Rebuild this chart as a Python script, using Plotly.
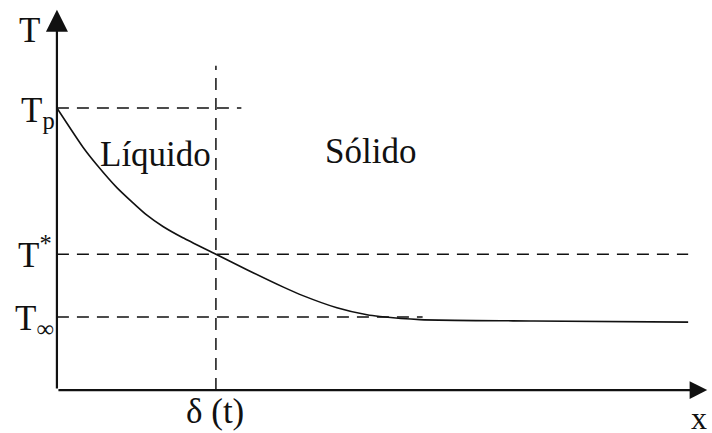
import plotly.graph_objects as go

# Temperature levels (normalised) and interface position
T_LEVELS = {"Tp": 1.0, "Tstar": 0.482, "Tinf": 0.259}
DELTA = 1.0
X_END = 3.97

# Temperature profile T(x)
x_curve = [0.0, 0.164, 0.252, 0.377, 0.566, 0.667, 0.792, 1.0, 1.195, 1.421,
           1.547, 1.761, 1.950, 2.031, 2.283, 3.0, 3.97]
T_curve = [1.0, 0.861, 0.798, 0.718, 0.620, 0.580, 0.540, 0.482, 0.427, 0.366,
           0.335, 0.292, 0.267, 0.261, 0.250, 0.245, 0.241]

# Extents of the guide lines
tp_line_end = 1.16
tinf_line_end = 2.3
delta_line_top = 1.15
x_arrow_tip = 4.09
y_arrow_tip = 1.348

W, H = 712, 433
XR = [-0.358, 4.12]
YR = [-0.152, 1.383]

FONT = "Liberation Serif"
INK = "#111111"

fig = go.Figure()

dash_style = dict(color=INK, width=1.5, dash="12px,8px")

# horizontal dashed guides
for yv, xe in [(T_LEVELS["Tp"], tp_line_end), (T_LEVELS["Tstar"], X_END), (T_LEVELS["Tinf"], tinf_line_end)]:
    fig.add_trace(go.Scatter(x=[0, xe], y=[yv, yv], mode="lines", line=dash_style,
                             hoverinfo="skip", showlegend=False))

# vertical dashed guide at the interface
fig.add_trace(go.Scatter(x=[DELTA, DELTA], y=[0, delta_line_top], mode="lines", line=dash_style,
                         hoverinfo="skip", showlegend=False))

# temperature profile
fig.add_trace(go.Scatter(x=x_curve, y=T_curve, mode="lines",
                         line=dict(color=INK, width=1.6, shape="spline", smoothing=0.6),
                         hoverinfo="skip", showlegend=False))

# axes with arrowheads
for tip, tail, size in [((x_arrow_tip, 0), (0, 0), 1.6), ((0, y_arrow_tip), (0, 0), 2.0)]:
    fig.add_annotation(x=tip[0], y=tip[1], ax=tail[0], ay=tail[1], xref="x", yref="y",
                       axref="x", ayref="y", showarrow=True, arrowhead=2, arrowsize=size,
                       arrowwidth=2.2, arrowcolor=INK, text="")


def px_label(text, px, py, size=35, xanchor="center", yanchor="middle"):
    fig.add_annotation(x=px / W, y=1 - py / H, xref="paper", yref="paper", text=text,
                       showarrow=False, xanchor=xanchor, yanchor=yanchor,
                       font=dict(family=FONT, size=size, color=INK))


px_label("T", 29, 30)
px_label("T<sub>p</sub>", 57, 112, xanchor="right")
px_label("T<sup>*</sup>", 54, 252, xanchor="right")
px_label("T<sub>∞</sub>", 56, 320, xanchor="right")
px_label("Líquido", 155, 155)
px_label("Sólido", 370, 152)
px_label("δ (t)", 215, 411)
px_label("x", 709, 418, size=32, xanchor="right")

fig.update_layout(
    width=W, height=H, margin=dict(l=0, r=0, t=0, b=0),
    paper_bgcolor="white", plot_bgcolor="white",
    xaxis=dict(range=XR, visible=False, fixedrange=True),
    yaxis=dict(range=YR, visible=False, fixedrange=True),
)

fig.write_html("out.html")
